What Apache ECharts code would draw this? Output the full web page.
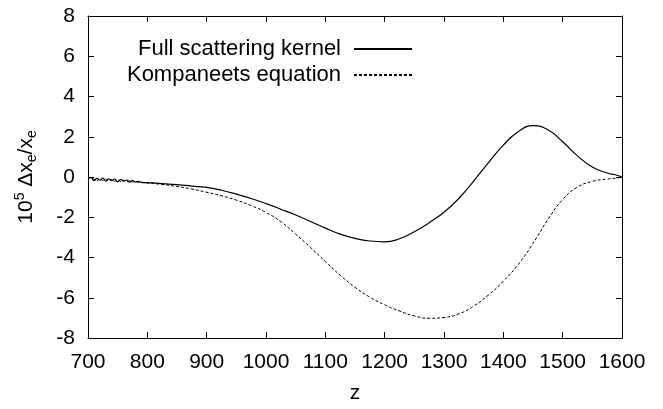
<!DOCTYPE html>
<html>
<head>
<meta charset="utf-8">
<script src="https://cdn.jsdelivr.net/npm/echarts@6/dist/echarts.min.js"></script>
<style>
  html, body { margin: 0; padding: 0; background: #fff; }
  #chart { width: 663px; height: 409px; }
</style>
</head>
<body>
<div id="chart"></div>
<script>
// z values (noisy start sampled finer)
var zVals = [700, 705, 710, 715, 720, 725, 730, 735, 740, 745, 750, 755, 760, 765, 770, 775, 780, 785, 790,
  800, 825, 850, 875, 900, 925, 950, 975, 1000, 1025, 1050, 1075, 1100, 1125, 1150, 1175, 1200,
  1225, 1250, 1275, 1300, 1325, 1350, 1375, 1400, 1425, 1450, 1475, 1500, 1525, 1550, 1575, 1590, 1600];

var fullKernel = [-0.08, -0.02, -0.18, -0.07, -0.16, -0.05, -0.21, -0.09, -0.17, -0.10, -0.24, -0.13, -0.20, -0.15, -0.25, -0.17, -0.25, -0.21, -0.27,
  -0.28, -0.33, -0.38, -0.45, -0.52, -0.66, -0.85, -1.07, -1.32, -1.6, -1.89, -2.21, -2.54, -2.84, -3.05, -3.18, -3.22,
  -3.07, -2.72, -2.27, -1.75, -1.07, -0.2, 0.72, 1.58, 2.25, 2.55, 2.35, 1.75, 1.05, 0.5, 0.2, 0.1, 0];

var kompaneets = [-0.15, -0.06, -0.12, -0.19, -0.08, -0.17, -0.11, -0.22, -0.12, -0.21, -0.14, -0.23, -0.16, -0.24, -0.19, -0.25, -0.22, -0.28, -0.28,
  -0.30, -0.37, -0.47, -0.60, -0.76, -0.93, -1.15, -1.42, -1.76, -2.22, -2.84, -3.5, -4.2, -4.88, -5.48, -5.97, -6.35,
  -6.66, -6.9, -7.02, -6.98, -6.8, -6.42, -5.86, -5.18, -4.35, -3.3, -2.12, -1.12, -0.5, -0.22, -0.1, -0.06, 0];

var xTicks = {min: 700, max: 1600, interval: 100};
var yTicks = {min: -8, max: 8, interval: 2};

var font = 'Liberation Sans';

function pairs(ys) {
  return zVals.map(function (z, i) { return [z, ys[i]]; });
}

var chart = echarts.init(document.getElementById('chart'));
var tickStyle = {show: true, inside: true, length: 6, lineStyle: {color: '#000', width: 1}};
var lineStyleAxis = {show: true, onZero: false, lineStyle: {color: '#000', width: 1}};
var plain = function (v) { return String(v); };

function legendAt(name, top) {
  return {
    data: [name],
    right: 250, top: top, padding: 0,
    align: 'right',
    itemWidth: 58, itemHeight: 10,
    itemStyle: {opacity: 0},
    textStyle: {fontFamily: font, fontSize: 22, color: '#000', padding: [0, 8, 0, 0]}
  };
}

var option = {
  animation: false,
  textStyle: {fontFamily: font},
  grid: {left: 88, right: 41, top: 16, bottom: 66},
  legend: [
    legendAt('Full scattering kernel', 38),
    legendAt('Kompaneets equation', 64)
  ],
  xAxis: [
    {
      type: 'value', position: 'bottom',
      min: xTicks.min, max: xTicks.max, interval: xTicks.interval,
      name: 'z', nameLocation: 'middle', nameGap: 45,
      nameTextStyle: {fontFamily: font, fontSize: 21, color: '#000'},
      axisLine: lineStyleAxis, axisTick: tickStyle,
      axisLabel: {fontFamily: font, fontSize: 21, color: '#000', margin: 14, formatter: plain},
      splitLine: {show: false}
    },
    {
      type: 'value', position: 'top',
      min: xTicks.min, max: xTicks.max, interval: xTicks.interval,
      axisLine: lineStyleAxis, axisTick: tickStyle,
      axisLabel: {show: false}, splitLine: {show: false}
    }
  ],
  yAxis: [
    {
      type: 'value', position: 'left',
      min: yTicks.min, max: yTicks.max, interval: yTicks.interval,
      name: '{n|10}{sup|5}{n| Δx}{sub|e}{n|/x}{sub|e}',
      nameLocation: 'middle', nameGap: 49, nameRotate: 90,
      nameTextStyle: {
        fontFamily: font, fontSize: 21, color: '#000',
        rich: {
          n: {fontFamily: font, fontSize: 21, color: '#000', lineHeight: 26},
          sup: {fontFamily: font, fontSize: 14, color: '#000', verticalAlign: 'top', lineHeight: 26},
          sub: {fontFamily: font, fontSize: 14, color: '#000', verticalAlign: 'bottom', lineHeight: 26}
        }
      },
      axisLine: lineStyleAxis, axisTick: tickStyle,
      axisLabel: {fontFamily: font, fontSize: 21, color: '#000', margin: 13, formatter: plain},
      splitLine: {show: false}
    },
    {
      type: 'value', position: 'right',
      min: yTicks.min, max: yTicks.max, interval: yTicks.interval,
      axisLine: lineStyleAxis, axisTick: tickStyle,
      axisLabel: {show: false}, splitLine: {show: false}
    }
  ],
  series: [
    {
      name: 'Full scattering kernel',
      type: 'line',
      data: pairs(fullKernel),
      smooth: true,
      symbol: 'none',
      itemStyle: {color: '#000'},
      lineStyle: {color: '#000', width: 1.2}
    },
    {
      name: 'Kompaneets equation',
      type: 'line',
      data: pairs(kompaneets),
      smooth: true,
      symbol: 'none',
      itemStyle: {color: '#000'},
      lineStyle: {color: '#000', width: 1, type: [3, 2]}
    }
  ]
};
chart.setOption(option);
</script>
</body>
</html>
